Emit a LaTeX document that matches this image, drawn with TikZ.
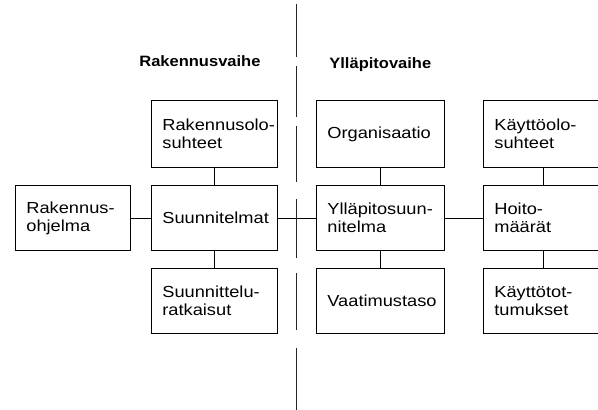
\documentclass[tikz,border=0pt]{standalone}
\usepackage{fontspec}
\setmainfont{Liberation Sans}[FakeStretch=1.14]
\newfontfamily\headfont{Liberation Sans}[FakeStretch=1.1]
\exhyphenpenalty=10000
\begin{document}
\begin{tikzpicture}[x=1pt,y=-1pt,
  line width=0.8pt,
  box/.style={draw, anchor=north west, inner xsep=11pt, inner ysep=0pt,
    align=left, font=\fontsize{16}{18}\selectfont},
  head/.style={anchor=base west, inner sep=0pt,
    font=\headfont\bfseries\fontsize{15}{17}\selectfont},
  divider/.style={line width=0.9pt, black!85}]
\clip (0,0) rectangle (598,410);
\fill[white] (0,0) rectangle (598,410);

% phase headings
\node[head] (h1) at (139,66) {Rakennusvaihe};
\node[head] (h2) at (329,68) {Ylläpitovaihe};

% construction phase
\node[box, text width=93pt, minimum height=65pt] (prog) at (15,185) {\mbox{Rakennus-}\\ohjelma};
\node[box, text width=104pt, minimum height=67pt] (cond) at (151,100) {\mbox{Rakennusolo-}\\suhteet};
\node[box, text width=104pt, minimum height=65pt] (plan) at (151,185) {Suunnitelmat};
\node[box, text width=104pt, minimum height=65pt] (sol) at (151,268) {\mbox{Suunnittelu-}\\ratkaisut};

% maintenance phase
\node[box, text width=106pt, minimum height=67pt] (org) at (316,100) {Organisaatio};
\node[box, text width=106pt, minimum height=65pt] (mplan) at (316,185) {\mbox{Ylläpitosuun-}\\nitelma};
\node[box, text width=106pt, minimum height=65pt] (level) at (316,268) {Vaatimustaso};
\node[box, text width=106pt, minimum height=67pt] (use) at (483,100) {\mbox{Käyttöolo-}\\suhteet};
\node[box, text width=106pt, minimum height=65pt] (care) at (483,185) {\mbox{Hoito-}\\määrät};
\node[box, text width=106pt, minimum height=65pt] (habit) at (483,268) {\mbox{Käyttötot-}\\tumukset};

% connectors
\draw (prog.east) -- (plan.west);
\draw (plan.east) -- (mplan.west);
\draw (mplan.east) -- (care.west);
\draw (cond.south) -- (plan.north);
\draw (plan.south) -- (sol.north);
\draw (org.south) -- (mplan.north);
\draw (mplan.south) -- (level.north);
\draw ([xshift=-4pt]use.south) -- ([xshift=-4pt]care.north);
\draw ([xshift=-4pt]care.south) -- ([xshift=-4pt]habit.north);

% dividing line between the phases
\foreach \a/\b in {4/57, 66/117, 126/182, 199/258, 273/330, 348/410}
  \draw[divider] (296.5,\a) -- (296.5,\b);
\end{tikzpicture}
\end{document}
